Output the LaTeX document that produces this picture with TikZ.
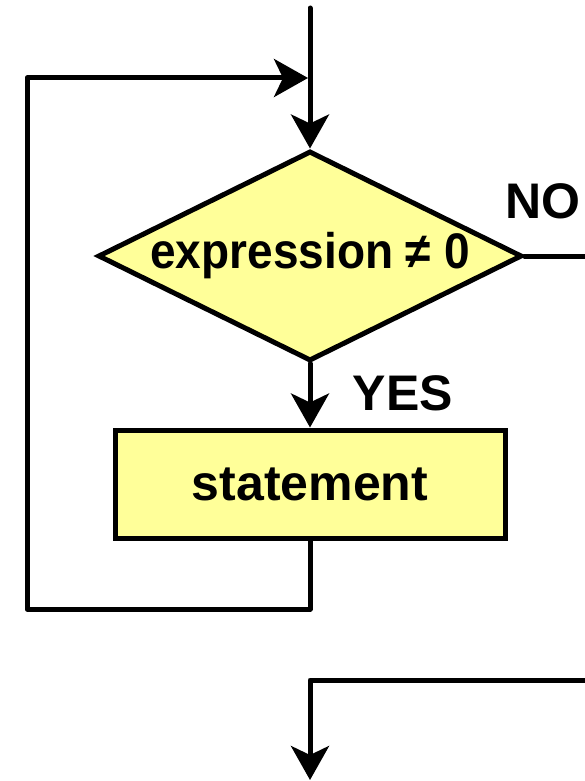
\documentclass[tikz,border=0pt]{standalone}
\usepackage{fontspec}
\usepackage{graphicx}
\setmainfont{Liberation Sans}
\usetikzlibrary{shapes.geometric,arrows.meta}
\definecolor{boxfill}{HTML}{FFFF99}
\newcommand{\flowfont}{\fontsize{50}{54}\selectfont\bfseries}
\begin{document}
\begin{tikzpicture}[x=1pt,y=-1pt,
  flow/.style={line width=5pt,line cap=round,line join=round},
  tip/.style={-{Stealth[length=34pt,width=38pt,inset=9pt]}},
  decision/.style={diamond,draw,line width=5pt,line join=miter,fill=boxfill,
    minimum width=424pt,minimum height=210pt,inner sep=0pt,aspect=2},
  process/.style={rectangle,draw,line width=5pt,fill=boxfill,
    minimum width=390pt,minimum height=108pt,inner sep=0pt},
  lbl/.style={font=\flowfont,inner sep=0pt}]
\useasboundingbox (0,0) rectangle (584,781);

% condition and body
\node[decision] (cond) at (310,256) {\flowfont\scalebox{0.92}[1]{expression ≠ 0}};
\node[process] (body) at (310,484) {\flowfont statement};

% branch labels
\node[lbl] (no) at (543,201) {NO};
\node[lbl] (yes) at (403,393) {YES};

% entry and loop-back path
\coordinate (entry) at (310,8);
\coordinate (join) at (308,78);
\coordinate (lowright) at (310,609);
\coordinate (lowleft) at (27,609);
\coordinate (upleft) at (27,78);
\draw[flow,tip] (entry) -- (cond.north);
\draw[flow,tip] (body.south) -- (lowright) -- (lowleft) -- (upleft) -- (join);
\draw[flow,tip] (cond.south) -- (body.north);

% exit path
\coordinate (exitout) at (600,256);
\coordinate (exitin) at (600,680);
\coordinate (exitcorner) at (310,680);
\coordinate (exitend) at (310,780);
\draw[flow] (cond.east) -- (exitout);
\draw[flow,tip] (exitin) -- (exitcorner) -- (exitend);
\end{tikzpicture}
\end{document}
